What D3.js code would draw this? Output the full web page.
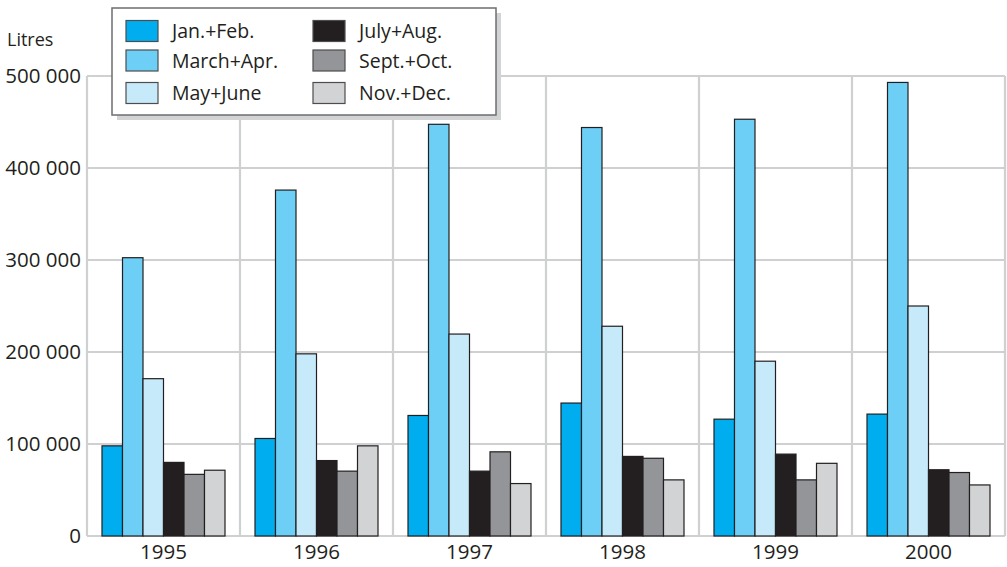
<!DOCTYPE html>
<html>
<head>
<meta charset="utf-8">
<script src="https://cdn.jsdelivr.net/npm/d3@7"></script>
<style>
  html, body { margin: 0; padding: 0; background: #fff; }
  svg { display: block; font-family: "Open Sans", "Noto Sans", sans-serif; font-weight: 400; }
</style>
</head>
<body>
<svg id="chart" width="1007" height="567"></svg>
<script>
const years = ["1995", "1996", "1997", "1998", "1999", "2000"];
const seriesNames = ["Jan.+Feb.", "March+Apr.", "May+June", "July+Aug.", "Sept.+Oct.", "Nov.+Dec."];
const seriesColors = ["#00aeef", "#6dcff6", "#c7eafb", "#231f20", "#939598", "#d1d3d4"];
const janFeb   = [98000, 106000, 131000, 144500, 127000, 132500];
const marApr   = [302500, 376000, 447500, 444000, 453000, 493000];
const mayJune  = [171000, 198000, 219500, 228000, 190000, 250000];
const julyAug  = [80000, 82000, 70500, 86500, 89000, 72000];
const septOct  = [67000, 70500, 91500, 84500, 61000, 69000];
const novDec   = [71500, 98000, 57000, 61000, 79000, 55500];
const yTicks = [0, 100000, 200000, 300000, 400000, 500000];
const yTickLabels = ["0", "100 000", "200 000", "300 000", "400 000", "500 000"];
const yTitle = "Litres";

const seriesValues = [janFeb, marApr, mayJune, julyAug, septOct, novDec];

const svg = d3.select("#chart");
const mLeft = 87, mRight = 1005, mTop = 76, mBottom = 536;

const x0 = d3.scaleBand().domain(years).range([mLeft, mRight]).paddingInner(0).paddingOuter(0);
const x1 = d3.scaleBand().domain(seriesNames).range([15, x0.bandwidth() - 15]).padding(0);
const y = d3.scaleLinear().domain([0, 500000]).range([mBottom, mTop]);

const grid = svg.append("g");
grid.selectAll("line.h").data(yTicks).join("line")
  .attr("x1", mLeft).attr("x2", mRight)
  .attr("y1", d => y(d)).attr("y2", d => y(d))
  .attr("stroke", "#cfd0d1").attr("stroke-width", 2.2);
const vlines = years.map(d => x0(d)).concat([mRight]);
grid.selectAll("line.v").data(vlines).join("line")
  .attr("x1", d => d).attr("x2", d => d)
  .attr("y1", y(500000)).attr("y2", mBottom)
  .attr("stroke", "#cfd0d1").attr("stroke-width", 2.2);

const yAxis = d3.axisLeft(y).tickValues(yTicks)
  .tickFormat((d, i) => yTickLabels[i]).tickSize(0).tickPadding(6);
const yg = svg.append("g").attr("transform", `translate(${mLeft},0)`).call(yAxis);
yg.select(".domain").remove();
yg.selectAll("text").attr("font-size", 20.5).attr("fill", "#231f20")
  .attr("font-family", "'Open Sans', sans-serif").attr("font-weight", 400);

const xAxis = d3.axisBottom(x0).tickSize(0).tickPadding(8);
const xg = svg.append("g").attr("transform", `translate(0,${mBottom})`).call(xAxis);
xg.select(".domain").remove();
xg.selectAll("text").attr("font-size", 20.5).attr("fill", "#231f20")
  .attr("font-family", "'Open Sans', sans-serif").attr("font-weight", 400);

const bars = svg.append("g");
years.forEach((yr, i) => {
  const g = bars.append("g").attr("transform", `translate(${x0(yr)},0)`);
  g.selectAll("rect").data(seriesNames.map((s, j) => ({ s, j, v: seriesValues[j][i] })))
    .join("rect")
    .attr("x", d => x1(d.s))
    .attr("width", x1.bandwidth())
    .attr("y", d => y(d.v))
    .attr("height", d => y(0) - y(d.v))
    .attr("fill", d => seriesColors[d.j])
    .attr("stroke", "#231f20").attr("stroke-width", 1.2);
});

svg.append("text").attr("x", 7).attr("y", 46).text(yTitle)
  .attr("font-size", 18).attr("fill", "#231f20");

const lg = svg.append("g");
const lx = 112, ly = 8, lw = 384, lh = 107;
lg.append("rect").attr("x", lx + 5).attr("y", ly + 5).attr("width", lw).attr("height", lh)
  .attr("fill", "#d1d3d4");
lg.append("rect").attr("x", lx).attr("y", ly).attr("width", lw).attr("height", lh)
  .attr("fill", "#fff").attr("stroke", "#6d6e71").attr("stroke-width", 1.5);
const rowY = [20.5, 50, 82.5];
seriesNames.forEach((s, j) => {
  const col = Math.floor(j / 3), row = j % 3;
  const sx = col === 0 ? 126 : 313;
  lg.append("rect").attr("x", sx).attr("y", rowY[row]).attr("width", 32).attr("height", 21)
    .attr("fill", seriesColors[j]).attr("stroke", "#4d4d4f").attr("stroke-width", 1.2);
  lg.append("text").attr("x", sx + 46).attr("y", rowY[row] + 11).attr("dy", "0.35em")
    .text(s).attr("font-size", 19.5).attr("fill", "#231f20");
});
</script>
</body>
</html>
